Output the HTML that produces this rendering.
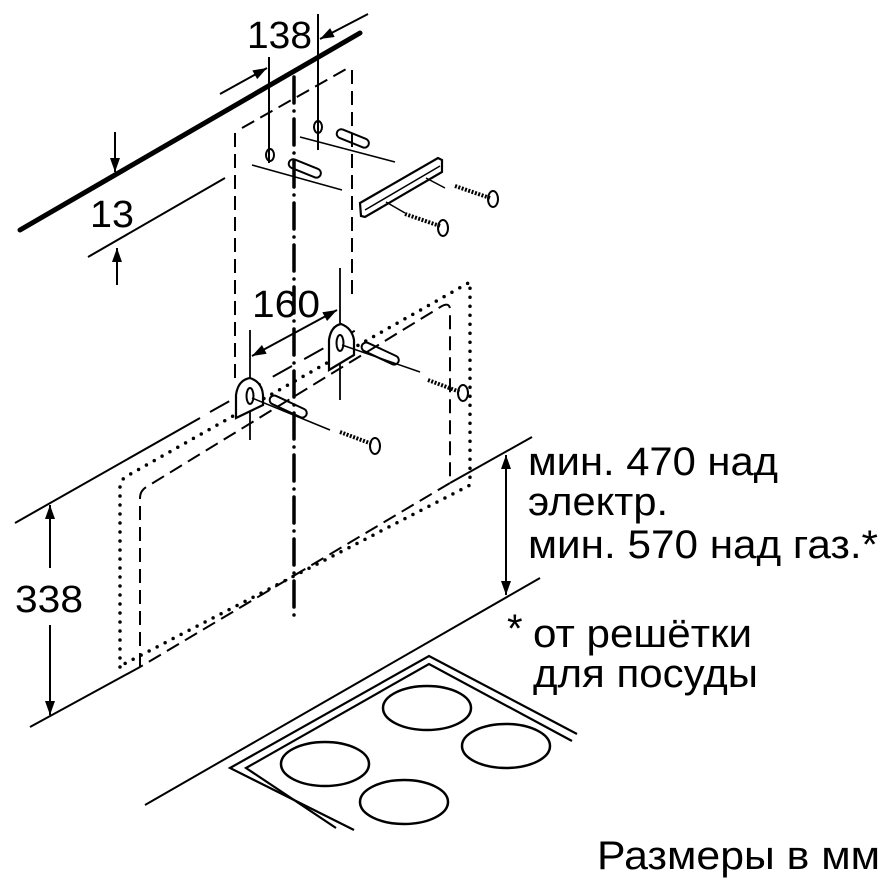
<!DOCTYPE html>
<html><head><meta charset="utf-8"><style>
html,body{margin:0;padding:0;background:#fff}
svg{display:block}
text{font-family:"Liberation Sans",sans-serif;fill:#000}
</style></head><body>
<svg width="892" height="892" viewBox="0 0 892 892" xmlns="http://www.w3.org/2000/svg">
<defs>
<marker id="ar2" viewBox="0 0 14 10" refX="14" refY="5" markerWidth="16" markerHeight="10" orient="auto-start-reverse" markerUnits="userSpaceOnUse"><path d="M0,0 L14,5 L0,10 z" fill="#000"/></marker>
</defs>
<g stroke="#000" fill="none" stroke-width="2">
<line x1="20" y1="230" x2="360" y2="33" stroke-width="5" stroke-linecap="round"/>
<line x1="269" y1="57" x2="269" y2="163"/>
<line x1="318" y1="14" x2="318" y2="150"/>
<line x1="220" y1="94" x2="267" y2="68" marker-end="url(#ar2)"/>
<line x1="368" y1="14" x2="320" y2="39" marker-end="url(#ar2)"/>
<line x1="115" y1="132" x2="115" y2="172" marker-end="url(#ar2)"/>
<line x1="88" y1="257" x2="225" y2="178"/>
<line x1="117" y1="285" x2="117" y2="248" marker-end="url(#ar2)"/>
<line x1="235" y1="133" x2="235" y2="385" stroke-dasharray="14 7"/>
<line x1="352" y1="70" x2="352" y2="300" stroke-dasharray="14 7"/>
<line x1="242" y1="128" x2="348" y2="68" stroke-dasharray="14 7"/>
<line x1="294" y1="77" x2="294" y2="621" stroke-width="3.5" stroke-dasharray="26 8 0 8" stroke-linecap="round"/>
<ellipse cx="270" cy="155" rx="4" ry="6"/>
<ellipse cx="318" cy="127" rx="4" ry="6"/>
<line x1="252" y1="165" x2="342" y2="190" stroke-width="1.5"/>
<line x1="300" y1="137" x2="395" y2="162" stroke-width="1.5"/>
<rect x="288" y="164" width="34" height="9" rx="4.5" transform="rotate(22 305 168)"/>
<rect x="336" y="134" width="34" height="9" rx="4.5" transform="rotate(22 353 138)"/>
<path d="M360,203 L438,158 L442,160 L442,172 L365,217 L361,216 Z" stroke-width="2.2"/>
<line x1="365" y1="210" x2="440" y2="166" stroke-width="1.5"/>
<line x1="386" y1="202" x2="405" y2="213" stroke-width="1.5"/>
<line x1="426" y1="178" x2="445" y2="188" stroke-width="1.5"/>
<line x1="455" y1="186" x2="490" y2="198" stroke-width="4" stroke-dasharray="2 1.5"/>
<ellipse cx="493" cy="199" rx="5" ry="8"/>
<line x1="405" y1="214" x2="440" y2="226" stroke-width="4" stroke-dasharray="2 1.5"/>
<ellipse cx="443" cy="228" rx="5" ry="8"/>
<line x1="250" y1="330" x2="250" y2="440" stroke-width="1.8"/>
<line x1="340" y1="268" x2="340" y2="400" stroke-width="1.8"/>
<line x1="337" y1="310" x2="252" y2="356" marker-start="url(#ar2)" marker-end="url(#ar2)"/>
<line x1="15" y1="523" x2="200" y2="418"/>
<line x1="210" y1="412" x2="365" y2="325" stroke-dasharray="22 14"/>
<path d="M120,667 L120,487 Q120,480 127,476 L470,282 L470,485 L122,665" stroke-width="3.5" stroke-dasharray="0 9" stroke-linecap="round"/>
<path d="M140,667 L140,498 Q140,490 148,486 L442,306 Q450,302 450,310 L450,483 L140,667" stroke-dasharray="14 7"/>
<line x1="30" y1="727" x2="140" y2="667"/>
<line x1="450" y1="483" x2="532" y2="437"/>
<line x1="50" y1="505" x2="50" y2="568" marker-start="url(#ar2)"/>
<line x1="50" y1="625" x2="50" y2="715" marker-end="url(#ar2)"/>
<path d="M236,418 L236,395 Q238,380 250,378 Q262,382 263,395 L263,405 Z" fill="#fff" stroke-width="2.2"/>
<ellipse cx="250" cy="396" rx="3.5" ry="8"/>
<path d="M329,370 L329,340 Q331,326 341,324 Q352,328 354,340 L354,355 Z" fill="#fff" stroke-width="2.2"/>
<ellipse cx="340" cy="343" rx="3.5" ry="8"/>
<line x1="252" y1="398" x2="330" y2="430" stroke-width="1.5"/>
<line x1="342" y1="345" x2="420" y2="372" stroke-width="1.5"/>
<rect x="268" y="402" width="40" height="9" rx="4.5" transform="rotate(25 288 407)"/>
<rect x="360" y="349" width="40" height="9" rx="4.5" transform="rotate(25 380 354)"/>
<line x1="340" y1="432" x2="372" y2="444" stroke-width="4" stroke-dasharray="2 1.5"/>
<ellipse cx="375" cy="446" rx="5" ry="8"/>
<line x1="428" y1="380" x2="460" y2="392" stroke-width="4" stroke-dasharray="2 1.5"/>
<ellipse cx="463" cy="393" rx="5" ry="8"/>
<line x1="506" y1="455" x2="506" y2="595" marker-start="url(#ar2)" marker-end="url(#ar2)"/>
<line x1="145" y1="805" x2="540" y2="578"/>
<polyline points="577,734 429,656 230,768 354,830" stroke-width="2.2"/>
<polyline points="572,741 429,664 246,768 336,828" stroke-width="2.2"/>
<ellipse cx="427" cy="708" rx="44" ry="22" stroke-width="2.5"/>
<ellipse cx="506" cy="746" rx="44" ry="22" stroke-width="2.5"/>
<ellipse cx="325" cy="764" rx="44" ry="22" stroke-width="2.5"/>
<ellipse cx="404" cy="802" rx="44" ry="22" stroke-width="2.5"/>
</g>
<g font-size="38" lengthAdjust="spacingAndGlyphs">
<text x="247" y="48" textLength="65" lengthAdjust="spacingAndGlyphs">138</text>
<text x="90" y="227" textLength="44" lengthAdjust="spacingAndGlyphs">13</text>
<text x="252" y="317" textLength="68" lengthAdjust="spacingAndGlyphs">160</text>
<text x="15" y="612" textLength="68" lengthAdjust="spacingAndGlyphs">338</text>
</g>
<g font-size="40">
<text x="528" y="475" textLength="250" lengthAdjust="spacingAndGlyphs">мин. 470 над</text>
<text x="528" y="515" textLength="140" lengthAdjust="spacingAndGlyphs">электр.</text>
<text x="528" y="558" textLength="350" lengthAdjust="spacingAndGlyphs">мин. 570 над газ.*</text>
<text x="507" y="642">*</text>
<text x="533" y="647" textLength="219" lengthAdjust="spacingAndGlyphs">от решётки</text>
<text x="533" y="687" textLength="225" lengthAdjust="spacingAndGlyphs">для посуды</text>
<text x="597" y="869" textLength="283" lengthAdjust="spacingAndGlyphs">Размеры в мм</text>
</g>
</svg>
</body></html>
